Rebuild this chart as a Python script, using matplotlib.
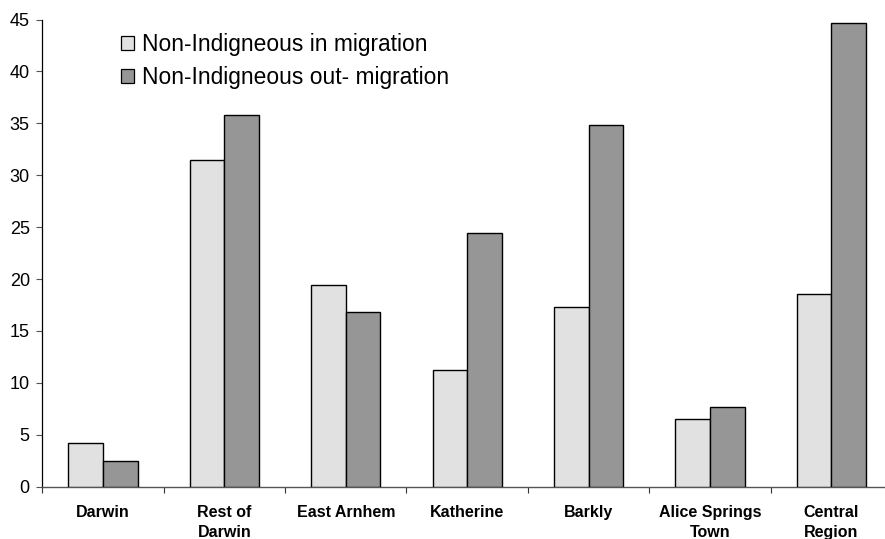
import matplotlib
matplotlib.use("Agg")
import matplotlib.pyplot as plt
import numpy as np
from matplotlib.patches import Patch

plt.rcParams['font.family'] = ['Liberation Sans', 'DejaVu Sans']

regions = ["Darwin", "Rest of\nDarwin", "East Arnhem", "Katherine", "Barkly",
           "Alice Springs\nTown", "Central\nRegion"]
in_migration = [4.2, 31.5, 19.4, 11.2, 17.3, 6.5, 18.6]
out_migration = [2.5, 35.8, 16.8, 24.4, 34.8, 7.7, 44.7]
series_labels = ["Non-Indigneous in migration", "Non-Indigneous out- migration"]
y_ticks = [0, 5, 10, 15, 20, 25, 30, 35, 40, 45]

W, H = 885, 539
fig = plt.figure(figsize=(W / 100, H / 100), dpi=100)
x0, x1 = 42.3, 892.0
y0, y1 = 486.7, 19.5
ax = fig.add_axes([x0 / W, (H - y0) / H, (x1 - x0) / W, (y0 - y1) / H])

x = np.arange(len(regions))
bw = 0.285
c_in, c_out = "#e1e1e1", "#969696"
ax.bar(x - bw / 2, in_migration, bw, color=c_in, edgecolor="black", linewidth=1.0, zorder=3)
ax.bar(x + bw / 2, out_migration, bw, color=c_out, edgecolor="black", linewidth=1.0, zorder=3)

ax.set_xlim(-0.5, len(regions) - 0.5)
ax.set_ylim(0, 45)
ax.set_yticks(y_ticks)
ax.tick_params(axis="y", direction="out", length=4, width=0.8, color="#555555",
               labelsize=13, pad=5)

# category boundaries carry the ticks; names sit at the centres
ax.set_xticks(np.arange(len(regions) + 1) - 0.5)
ax.set_xticklabels([])
ax.set_xticks(x, minor=True)
ax.set_xticklabels(regions, minor=True, fontsize=11.5, fontweight="bold", linespacing=1.4)
ax.tick_params(axis="x", which="major", direction="out", length=4, width=0.8, color="#333333")
ax.tick_params(axis="x", which="minor", length=0, pad=13)

for s in ["top", "right"]:
    ax.spines[s].set_visible(False)
ax.spines["left"].set_linewidth(0.9)
ax.spines["bottom"].set_linewidth(1.0)
ax.spines["bottom"].set_color("#555555")

handles = [Patch(facecolor=c_in, edgecolor="black", linewidth=0.9),
           Patch(facecolor=c_out, edgecolor="black", linewidth=0.9)]
fig.legend(handles, series_labels, loc="upper left",
           bbox_to_anchor=(121 / W, 1 - 33 / H), frameon=False, fontsize=16.4,
           handlelength=0.57, handleheight=0.57, handletextpad=0.35,
           labelspacing=0.42, borderpad=0, borderaxespad=0)

fig.savefig("out.png", dpi=100)
